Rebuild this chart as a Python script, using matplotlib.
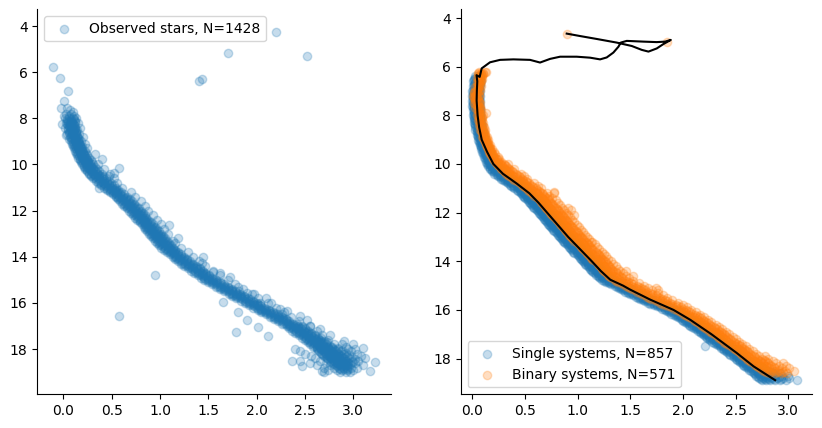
import matplotlib
matplotlib.use("Agg")
import matplotlib.pyplot as plt

# ---------------- data: left panel (observed stars) ----------------
# rows of (magnitude, [colours of stars at that magnitude])
obs_rows_upper = [
    (7.8, [0.03, 0.08]),
    (7.9, [0.01, 0.06, 0.11]),
    (8.0, [0.02, 0.06, 0.10, 0.13]),
    (8.1, [0.04, 0.08, 0.12]),
    (8.2, [0.03, 0.07, 0.09, 0.15]),
    (8.3, [0.05, 0.08, 0.11]),
    (8.4, [0.02, 0.09, 0.12, 0.17]),
    (8.5, [0.05, 0.08, 0.11, 0.14]),
    (8.6, [0.06, 0.10, 0.13]),
    (8.7, [0.04, 0.09, 0.12, 0.16]),
    (8.8, [0.07, 0.11, 0.14, 0.20]),
    (8.9, [0.06, 0.10, 0.13, 0.16]),
    (9.0, [0.08, 0.12, 0.15, 0.18]),
    (9.1, [0.09, 0.13, 0.16, 0.22]),
    (9.2, [0.10, 0.13, 0.17, 0.19]),
    (9.3, [0.11, 0.15, 0.18, 0.24]),
    (9.4, [0.12, 0.16, 0.19, 0.22]),
    (9.5, [0.13, 0.17, 0.20, 0.23]),
    (9.6, [0.14, 0.18, 0.21, 0.25]),
    (9.7, [0.15, 0.19, 0.23, 0.27]),
    (9.8, [0.17, 0.21, 0.24, 0.29]),
    (9.9, [0.18, 0.22, 0.26, 0.30]),
    (10.0, [0.19, 0.23, 0.27, 0.31, 0.36]),
    (10.1, [0.21, 0.25, 0.29, 0.33]),
    (10.2, [0.22, 0.27, 0.31, 0.35, 0.42]),
    (10.3, [0.24, 0.29, 0.33, 0.37]),
    (10.4, [0.27, 0.31, 0.35, 0.40, 0.48]),
    (10.5, [0.29, 0.33, 0.37, 0.41, 0.47]),
    (10.6, [0.31, 0.36, 0.40, 0.44, 0.52]),
    (10.7, [0.34, 0.38, 0.42, 0.47]),
    (10.8, [0.36, 0.41, 0.45, 0.49, 0.56]),
    (10.9, [0.39, 0.43, 0.47, 0.52]),
    (11.0, [0.42, 0.46, 0.50, 0.54, 0.61]),
    (11.1, [0.45, 0.49, 0.53, 0.57]),
    (11.2, [0.48, 0.52, 0.56, 0.60, 0.70]),
    (11.3, [0.51, 0.55, 0.59, 0.63]),
    (11.4, [0.54, 0.58, 0.62, 0.66, 0.74]),
    (11.5, [0.57, 0.61, 0.65, 0.69]),
    (11.6, [0.59, 0.63, 0.67, 0.71, 0.80]),
    (11.7, [0.61, 0.65, 0.69, 0.73]),
    (11.8, [0.63, 0.67, 0.71, 0.75, 0.84]),
    (11.9, [0.66, 0.70, 0.74, 0.78]),
]
obs_rows_middle = [
    (12.0, [0.68, 0.72, 0.76, 0.80, 0.88]),
    (12.1, [0.70, 0.74, 0.78, 0.82]),
    (12.2, [0.72, 0.76, 0.80, 0.84, 0.93]),
    (12.3, [0.74, 0.78, 0.82, 0.86]),
    (12.4, [0.76, 0.80, 0.84, 0.88, 0.97]),
    (12.5, [0.79, 0.83, 0.87, 0.91]),
    (12.6, [0.81, 0.85, 0.89, 0.93, 1.01]),
    (12.7, [0.83, 0.87, 0.91, 0.95]),
    (12.8, [0.85, 0.89, 0.93, 0.97, 1.04]),
    (12.9, [0.87, 0.91, 0.95, 0.99]),
    (13.0, [0.89, 0.93, 0.97, 1.01, 1.08]),
    (13.1, [0.91, 0.95, 0.99, 1.03]),
    (13.2, [0.93, 0.97, 1.01, 1.05]),
    (13.3, [0.95, 0.99, 1.03, 1.07, 1.13]),
    (13.4, [0.97, 1.01, 1.05, 1.09, 1.16]),
    (13.5, [0.99, 1.03, 1.07, 1.11]),
    (13.6, [1.01, 1.05, 1.09, 1.13, 1.22]),
    (13.7, [1.04, 1.08, 1.12, 1.16]),
    (13.8, [1.07, 1.11, 1.15, 1.19, 1.29]),
    (13.9, [1.10, 1.14, 1.18, 1.22]),
    (14.0, [1.13, 1.17, 1.21, 1.25, 1.34]),
    (14.1, [1.16, 1.20, 1.24, 1.28]),
    (14.2, [1.19, 1.23, 1.27, 1.31, 1.40]),
    (14.3, [1.22, 1.26, 1.30, 1.34]),
    (14.4, [1.25, 1.29, 1.33, 1.37, 1.47]),
    (14.5, [1.29, 1.33, 1.37, 1.41]),
    (14.6, [1.32, 1.36, 1.40, 1.44, 1.55]),
    (14.7, [1.35, 1.39, 1.43, 1.47]),
    (14.8, [1.39, 1.43, 1.47, 1.51, 1.62]),
    (14.9, [1.42, 1.46, 1.50, 1.54]),
    (15.0, [1.46, 1.50, 1.54, 1.58, 1.70]),
    (15.1, [1.50, 1.54, 1.58, 1.62]),
    (15.2, [1.54, 1.58, 1.62, 1.66, 1.78]),
    (15.3, [1.58, 1.62, 1.66, 1.70]),
    (15.4, [1.62, 1.66, 1.70, 1.74, 1.86]),
    (15.5, [1.66, 1.70, 1.74, 1.78, 1.82]),
    (15.6, [1.71, 1.75, 1.79, 1.83, 1.95]),
    (15.7, [1.75, 1.79, 1.83, 1.87]),
    (15.8, [1.79, 1.83, 1.87, 1.91, 2.01]),
    (15.9, [1.84, 1.88, 1.92, 1.96]),
]
obs_rows_lower = [
    (16.0, [1.88, 1.92, 1.96, 2.00, 2.04, 2.12]),
    (16.1, [1.92, 1.96, 2.00, 2.04]),
    (16.2, [1.96, 2.00, 2.04, 2.08, 2.20]),
    (16.3, [2.01, 2.05, 2.09, 2.13]),
    (16.4, [2.05, 2.09, 2.13, 2.17, 2.28]),
    (16.5, [2.10, 2.14, 2.18, 2.22, 2.26]),
    (16.6, [2.14, 2.18, 2.22, 2.26, 2.36]),
    (16.7, [2.18, 2.22, 2.26, 2.30]),
    (16.8, [2.22, 2.26, 2.30, 2.34, 2.44]),
    (16.9, [2.26, 2.30, 2.34, 2.38, 2.42]),
    (17.0, [2.31, 2.35, 2.39, 2.43, 2.47, 2.55]),
    (17.1, [2.34, 2.38, 2.42, 2.46, 2.50]),
    (17.2, [2.37, 2.41, 2.45, 2.49, 2.53, 2.62]),
    (17.3, [2.40, 2.44, 2.48, 2.52, 2.56]),
    (17.4, [2.44, 2.48, 2.52, 2.56, 2.60, 2.68]),
    (17.5, [2.47, 2.51, 2.55, 2.59, 2.63, 2.67]),
    (17.6, [2.50, 2.54, 2.58, 2.62, 2.66, 2.74]),
    (17.7, [2.53, 2.57, 2.61, 2.65, 2.69, 2.73]),
    (17.8, [2.55, 2.60, 2.64, 2.68, 2.72, 2.80, 2.88]),
    (17.9, [2.58, 2.62, 2.66, 2.70, 2.74, 2.78, 2.92]),
    (18.0, [2.40, 2.62, 2.67, 2.71, 2.75, 2.79, 2.84, 2.95, 3.02]),
    (18.1, [2.45, 2.65, 2.70, 2.74, 2.78, 2.82, 2.87, 2.98]),
    (18.2, [2.50, 2.68, 2.72, 2.76, 2.80, 2.84, 2.90, 3.04]),
    (18.3, [2.56, 2.70, 2.75, 2.79, 2.83, 2.87, 2.93, 3.08]),
    (18.4, [2.60, 2.73, 2.77, 2.81, 2.85, 2.89, 2.96, 3.12]),
    (18.5, [2.45, 2.66, 2.76, 2.80, 2.84, 2.88, 2.92, 2.99, 3.05]),
    (18.6, [2.55, 2.72, 2.79, 2.83, 2.87, 2.91, 2.95, 3.02]),
    (18.7, [2.62, 2.76, 2.82, 2.86, 2.90, 2.94, 3.10]),
    (18.8, [2.70, 2.80, 2.85, 2.89, 2.93, 2.98, 3.04]),
    (18.9, [2.74, 2.83, 2.88, 2.93, 3.00]),
    (19.0, [2.70, 2.86, 2.92, 2.97]),
]
# stars of the dense ridge lying between the rows above
obs_rows_half = [
    (8.05, [0.04, 0.08, 0.11]), (8.15, [0.05, 0.09, 0.12]), (8.25, [0.04, 0.07, 0.10]),
    (8.35, [0.06, 0.09, 0.12]), (8.45, [0.05, 0.09, 0.12]), (8.55, [0.07, 0.10, 0.13]),
    (8.65, [0.06, 0.10, 0.13]), (8.75, [0.08, 0.11, 0.14]), (8.85, [0.08, 0.12, 0.15]),
    (8.95, [0.09, 0.12, 0.15]), (9.05, [0.10, 0.13, 0.16]), (9.15, [0.11, 0.14, 0.17]),
    (9.25, [0.12, 0.15, 0.18]), (9.35, [0.13, 0.16, 0.19]), (9.45, [0.14, 0.17, 0.20]),
    (9.55, [0.15, 0.18, 0.21]), (9.65, [0.16, 0.19, 0.22]), (9.75, [0.17, 0.20, 0.24]),
    (9.85, [0.19, 0.22, 0.26]), (9.95, [0.20, 0.24, 0.28]), (10.05, [0.21, 0.25, 0.29]),
    (10.15, [0.23, 0.27, 0.31]), (10.25, [0.25, 0.29, 0.33]), (10.35, [0.27, 0.31, 0.35]),
    (10.45, [0.29, 0.33, 0.37]), (10.55, [0.32, 0.36, 0.40]), (10.65, [0.34, 0.38, 0.42]),
    (10.75, [0.37, 0.41, 0.45]), (10.85, [0.39, 0.43, 0.47]), (10.95, [0.42, 0.46, 0.50]),
    (11.05, [0.45, 0.49, 0.53]), (11.15, [0.48, 0.52, 0.56]), (11.25, [0.51, 0.55, 0.59]),
    (11.35, [0.54, 0.58, 0.62]), (11.45, [0.57, 0.61, 0.65]), (11.55, [0.60, 0.64, 0.68]),
    (11.65, [0.62, 0.66, 0.70]), (11.75, [0.64, 0.68, 0.72]), (11.85, [0.66, 0.70, 0.74]),
    (11.95, [0.69, 0.73, 0.77]), (12.05, [0.71, 0.75, 0.79]), (12.15, [0.73, 0.77, 0.81]),
    (12.25, [0.75, 0.79, 0.83]), (12.35, [0.77, 0.81, 0.85]), (12.45, [0.79, 0.83, 0.87]),
    (12.55, [0.82, 0.86, 0.90]), (12.65, [0.84, 0.88, 0.92]), (12.75, [0.86, 0.90, 0.94]),
    (12.85, [0.88, 0.92, 0.96]), (12.95, [0.90, 0.94, 0.98]), (13.05, [0.92, 0.96, 1.00]),
    (13.15, [0.94, 0.98, 1.02]), (13.25, [0.96, 1.00, 1.04]), (13.35, [0.98, 1.02, 1.06]),
    (13.45, [1.00, 1.04, 1.08]), (13.55, [1.02, 1.06, 1.10]), (13.65, [1.05, 1.09, 1.13]),
    (13.75, [1.08, 1.12, 1.16]), (13.85, [1.11, 1.15, 1.19]), (13.95, [1.14, 1.18, 1.22]),
    (14.05, [1.17, 1.21, 1.25]), (14.15, [1.20, 1.24, 1.28]), (14.25, [1.23, 1.27, 1.31]),
    (14.35, [1.26, 1.30, 1.34]), (14.45, [1.30, 1.34, 1.38]), (14.55, [1.33, 1.37, 1.41]),
    (14.65, [1.36, 1.40, 1.44]), (14.75, [1.40, 1.44, 1.48]), (14.85, [1.43, 1.47, 1.51]),
    (14.95, [1.47, 1.51, 1.55]), (15.05, [1.51, 1.55, 1.59]), (15.15, [1.55, 1.59, 1.63]),
    (15.25, [1.59, 1.63, 1.67]), (15.35, [1.63, 1.67, 1.71]), (15.45, [1.67, 1.71, 1.75]),
    (15.55, [1.72, 1.76, 1.80]), (15.65, [1.76, 1.80, 1.84]), (15.75, [1.80, 1.84, 1.88]),
    (15.85, [1.85, 1.89, 1.93]), (15.95, [1.89, 1.93, 1.97]), (16.05, [1.93, 1.97, 2.01]),
    (16.15, [1.97, 2.01, 2.05]), (16.25, [2.02, 2.06, 2.10]), (16.35, [2.06, 2.10, 2.14]),
    (16.45, [2.11, 2.15, 2.19]), (16.55, [2.15, 2.19, 2.23]), (16.65, [2.19, 2.23, 2.27]),
    (16.75, [2.23, 2.27, 2.31]), (16.85, [2.27, 2.31, 2.35]), (16.95, [2.32, 2.36, 2.40]),
    (17.05, [2.35, 2.39, 2.43, 2.47]), (17.15, [2.38, 2.42, 2.46, 2.50]),
    (17.25, [2.41, 2.45, 2.49, 2.53]), (17.35, [2.45, 2.49, 2.53, 2.57]),
    (17.45, [2.48, 2.52, 2.56, 2.60]), (17.55, [2.51, 2.55, 2.59, 2.63]),
    (17.65, [2.54, 2.58, 2.62, 2.66, 2.70]), (17.75, [2.56, 2.60, 2.64, 2.68, 2.72]),
    (17.85, [2.59, 2.63, 2.67, 2.71, 2.76]), (17.95, [2.62, 2.66, 2.70, 2.74, 2.78, 2.84]),
    (18.05, [2.64, 2.68, 2.72, 2.76, 2.81, 2.88]), (18.15, [2.67, 2.71, 2.75, 2.79, 2.84, 2.92]),
    (18.25, [2.69, 2.73, 2.77, 2.81, 2.86, 2.96]), (18.35, [2.72, 2.76, 2.80, 2.84, 2.89, 2.99]),
    (18.45, [2.74, 2.78, 2.82, 2.86, 2.91, 3.02]), (18.55, [2.77, 2.81, 2.85, 2.89, 2.94, 3.00]),
    (18.65, [2.80, 2.84, 2.88, 2.92, 2.97]), (18.75, [2.83, 2.87, 2.91, 2.95]),
    (18.85, [2.86, 2.90, 2.95]),
]
# isolated stars as (colour, magnitude)
obs_sparse = [
    (2.20, 4.27), (1.70, 5.18), (2.52, 5.30), (1.40, 6.37), (1.43, 6.31),
    (-0.11, 5.79), (-0.03, 6.27), (0.05, 6.82), (0.01, 7.24), (-0.02, 7.57),
    (0.07, 7.64), (0.10, 7.71), (0.04, 7.55), (-0.01, 8.25), (0.07, 8.36),
    (0.03, 8.72), (0.33, 9.55), (0.40, 9.78), (0.58, 10.17), (0.52, 10.36),
    (0.37, 11.04), (1.09, 12.63), (1.19, 13.20), (1.45, 14.03), (1.43, 14.29),
    (0.95, 14.81), (0.58, 16.57), (1.65, 15.96), (1.81, 16.38), (1.90, 16.74),
    (2.01, 17.06), (1.79, 17.28), (2.12, 17.44), (1.55, 14.65), (1.62, 14.72),
    (1.72, 14.87), (1.81, 15.30), (1.90, 15.55), (1.97, 15.62), (2.10, 15.80),
    (2.15, 15.99), (2.24, 16.28), (2.31, 16.35), (2.45, 16.57), (2.52, 16.76),
    (2.55, 17.00), (2.66, 17.15), (2.76, 17.37), (2.90, 17.66), (3.00, 17.80),
    (3.10, 17.95), (2.37, 18.52), (2.47, 18.72), (2.68, 18.95), (3.17, 18.95),
    (3.22, 18.55),
]

# ---------------- data: right panel (model) ----------------
single_rows = [
    (6.4, [0.03, 0.05, 0.07]), (6.5, [0.02, 0.04, 0.06]),
    (6.6, [0.01, 0.04, 0.06, 0.08]), (6.7, [0.02, 0.05, 0.07]),
    (6.8, [0.01, 0.03, 0.05, 0.07]), (6.9, [0.02, 0.04, 0.06]),
    (7.0, [0.00, 0.03, 0.05, 0.07]), (7.1, [0.01, 0.04, 0.06]),
    (7.2, [0.00, 0.02, 0.05, 0.07]), (7.3, [0.01, 0.03, 0.06]),
    (7.4, [0.00, 0.03, 0.05, 0.07]), (7.5, [0.01, 0.04, 0.06]),
    (7.6, [0.00, 0.02, 0.05, 0.07]), (7.7, [0.02, 0.04, 0.06]),
    (7.8, [0.01, 0.03, 0.05, 0.07]), (7.9, [0.02, 0.04, 0.07]),
    (8.0, [0.01, 0.03, 0.05, 0.07]), (8.1, [0.02, 0.04, 0.06, 0.08]),
    (8.2, [0.02, 0.05, 0.07]), (8.3, [0.02, 0.04, 0.06, 0.08]),
    (8.4, [0.03, 0.05, 0.07, 0.09]), (8.5, [0.03, 0.06, 0.08]),
    (8.6, [0.03, 0.05, 0.07, 0.09]), (8.7, [0.04, 0.06, 0.08, 0.10]),
    (8.8, [0.04, 0.07, 0.09]), (8.9, [0.05, 0.07, 0.09, 0.11]),
    (9.0, [0.05, 0.08, 0.10]), (9.1, [0.06, 0.08, 0.10, 0.12]),
    (9.2, [0.07, 0.09, 0.11, 0.13]), (9.3, [0.08, 0.10, 0.12]),
    (9.4, [0.08, 0.11, 0.13, 0.15]), (9.5, [0.09, 0.12, 0.14, 0.16]),
    (9.6, [0.10, 0.13, 0.15]), (9.7, [0.11, 0.14, 0.16, 0.18]),
    (9.8, [0.12, 0.15, 0.17, 0.19]), (9.9, [0.13, 0.16, 0.18, 0.20]),
    (10.0, [0.14, 0.17, 0.19, 0.21]), (10.1, [0.15, 0.18, 0.21, 0.23]),
    (10.2, [0.17, 0.20, 0.23, 0.25]), (10.3, [0.19, 0.22, 0.25, 0.28]),
    (10.4, [0.21, 0.24, 0.27, 0.30]), (10.5, [0.24, 0.27, 0.30, 0.33]),
    (10.6, [0.27, 0.30, 0.33, 0.36]), (10.7, [0.31, 0.34, 0.37, 0.40]),
    (10.8, [0.34, 0.37, 0.40, 0.43]), (10.9, [0.37, 0.40, 0.43, 0.46]),
    (11.0, [0.40, 0.43, 0.46, 0.49]), (11.1, [0.43, 0.46, 0.49, 0.52]),
    (11.2, [0.46, 0.49, 0.52, 0.55]), (11.3, [0.48, 0.51, 0.54, 0.57]),
    (11.4, [0.50, 0.53, 0.56, 0.59]), (11.5, [0.53, 0.56, 0.59, 0.62]),
    (11.6, [0.55, 0.58, 0.61, 0.64]), (11.7, [0.57, 0.60, 0.63, 0.66]),
    (11.8, [0.59, 0.62, 0.65, 0.68]), (11.9, [0.61, 0.64, 0.67, 0.70]),
    (12.0, [0.63, 0.66, 0.69, 0.72]), (12.1, [0.65, 0.68, 0.71, 0.74]),
    (12.2, [0.67, 0.70, 0.73, 0.76]), (12.3, [0.69, 0.72, 0.75, 0.78]),
    (12.4, [0.71, 0.74, 0.77, 0.80]), (12.5, [0.73, 0.76, 0.79, 0.82]),
    (12.6, [0.75, 0.78, 0.81, 0.84]), (12.7, [0.77, 0.80, 0.83, 0.86]),
    (12.8, [0.79, 0.82, 0.85, 0.88]), (12.9, [0.81, 0.84, 0.87, 0.90]),
    (13.0, [0.83, 0.86, 0.89, 0.92]), (13.1, [0.85, 0.88, 0.91, 0.94]),
    (13.2, [0.87, 0.90, 0.93, 0.96]), (13.3, [0.90, 0.93, 0.96, 0.99]),
    (13.4, [0.92, 0.95, 0.98, 1.01]), (13.5, [0.94, 0.97, 1.00, 1.03]),
    (13.6, [0.96, 0.99, 1.02, 1.05]), (13.7, [0.99, 1.02, 1.05, 1.08]),
    (13.8, [1.01, 1.04, 1.07, 1.10]), (13.9, [1.03, 1.06, 1.09, 1.12]),
    (14.0, [1.05, 1.08, 1.11, 1.14]), (14.1, [1.07, 1.10, 1.13, 1.16]),
    (14.2, [1.10, 1.13, 1.16, 1.19]), (14.3, [1.12, 1.15, 1.18, 1.21]),
    (14.4, [1.14, 1.17, 1.20, 1.23]), (14.5, [1.16, 1.19, 1.22, 1.25]),
    (14.6, [1.19, 1.22, 1.25, 1.28]), (14.7, [1.21, 1.24, 1.27, 1.30]),
    (14.8, [1.25, 1.28, 1.31, 1.34]), (14.9, [1.30, 1.33, 1.36, 1.39]),
    (15.0, [1.35, 1.38, 1.41, 1.44]), (15.1, [1.39, 1.42, 1.45, 1.48]),
    (15.2, [1.43, 1.46, 1.49, 1.52]), (15.3, [1.48, 1.51, 1.54, 1.57]),
    (15.4, [1.53, 1.56, 1.59, 1.62]), (15.5, [1.57, 1.60, 1.63, 1.66]),
    (15.6, [1.62, 1.65, 1.68, 1.71]), (15.7, [1.67, 1.70, 1.73, 1.76]),
    (15.8, [1.72, 1.75, 1.78, 1.81]), (15.9, [1.78, 1.81, 1.84, 1.87]),
    (16.0, [1.83, 1.86, 1.89, 1.92]), (16.1, [1.87, 1.90, 1.93, 1.96]),
    (16.2, [1.91, 1.94, 1.97, 2.00]), (16.3, [1.95, 1.98, 2.01, 2.04]),
    (16.4, [1.99, 2.02, 2.05, 2.08]), (16.5, [2.02, 2.05, 2.08, 2.11]),
    (16.6, [2.06, 2.09, 2.12, 2.15]), (16.7, [2.09, 2.12, 2.15, 2.18]),
    (16.8, [2.12, 2.15, 2.18, 2.21]), (16.9, [2.16, 2.19, 2.22, 2.25]),
    (17.0, [2.19, 2.22, 2.25, 2.28]), (17.1, [2.22, 2.25, 2.28, 2.31]),
    (17.2, [2.25, 2.28, 2.31, 2.34]), (17.3, [2.28, 2.31, 2.34, 2.37]),
    (17.4, [2.31, 2.34, 2.37, 2.40]), (17.5, [2.35, 2.38, 2.41, 2.44, 2.21]),
    (17.6, [2.38, 2.41, 2.44, 2.47]), (17.7, [2.41, 2.44, 2.47, 2.50]),
    (17.8, [2.44, 2.47, 2.50, 2.53]), (17.9, [2.47, 2.50, 2.53, 2.56]),
    (18.0, [2.50, 2.53, 2.56, 2.59]), (18.1, [2.53, 2.56, 2.59, 2.62]),
    (18.2, [2.56, 2.59, 2.62, 2.65]), (18.3, [2.58, 2.61, 2.64, 2.67, 2.71]),
    (18.4, [2.62, 2.65, 2.68, 2.71, 2.75]), (18.5, [2.65, 2.68, 2.71, 2.74, 2.80]),
    (18.6, [2.67, 2.71, 2.75, 2.78, 2.85, 2.92]),
    (18.7, [2.69, 2.73, 2.77, 2.81, 2.87, 2.94, 3.00]),
    (18.8, [2.72, 2.76, 2.80, 2.84, 2.89, 2.95, 3.01]),
    (18.9, [2.75, 2.79, 2.83, 2.87, 2.92, 2.98, 3.08]),
]
single_rows_half = [
    (6.45, [0.03, 0.05]), (6.55, [0.02, 0.05, 0.07]), (6.65, [0.03, 0.05]),
    (6.75, [0.02, 0.04, 0.06]), (6.85, [0.03, 0.05]), (6.95, [0.01, 0.04, 0.06]),
    (7.05, [0.02, 0.04]), (7.15, [0.01, 0.03, 0.06]), (7.25, [0.02, 0.04]),
    (7.35, [0.01, 0.04, 0.06]), (7.45, [0.02, 0.04]), (7.55, [0.01, 0.03, 0.06]),
    (7.65, [0.01, 0.04]), (7.75, [0.02, 0.05, 0.07]), (7.85, [0.02, 0.04]),
    (7.95, [0.02, 0.04, 0.06]), (8.05, [0.02, 0.05]), (8.15, [0.03, 0.05, 0.07]),
    (8.25, [0.03, 0.06]), (8.35, [0.03, 0.05, 0.07]), (8.45, [0.04, 0.06]),
    (8.55, [0.04, 0.06, 0.08]), (8.65, [0.04, 0.07]), (8.75, [0.05, 0.07, 0.09]),
    (8.85, [0.05, 0.08]), (8.95, [0.06, 0.08, 0.10]), (9.05, [0.07, 0.09]),
    (9.15, [0.07, 0.09, 0.11]), (9.25, [0.08, 0.10, 0.12]), (9.35, [0.09, 0.11, 0.13]),
    (9.45, [0.10, 0.12, 0.14]), (9.55, [0.11, 0.13, 0.15]), (9.65, [0.12, 0.14, 0.16]),
    (9.75, [0.13, 0.15, 0.17]), (9.85, [0.14, 0.16, 0.18]), (9.95, [0.15, 0.17, 0.19]),
    (10.05, [0.16, 0.18, 0.20]), (10.15, [0.17, 0.20, 0.22]), (10.25, [0.19, 0.22, 0.24]),
    (10.35, [0.21, 0.24, 0.27]), (10.45, [0.23, 0.26, 0.29]), (10.55, [0.26, 0.29, 0.32]),
    (10.65, [0.29, 0.32, 0.35]), (10.75, [0.33, 0.36, 0.39]), (10.85, [0.36, 0.39, 0.42]),
    (10.95, [0.39, 0.42, 0.45]), (11.05, [0.42, 0.45, 0.48]), (11.15, [0.45, 0.48, 0.51]),
    (11.25, [0.47, 0.50, 0.53]), (11.35, [0.49, 0.52, 0.55]), (11.45, [0.52, 0.55, 0.58]),
    (11.55, [0.54, 0.57, 0.60]), (11.65, [0.56, 0.59, 0.62]), (11.75, [0.58, 0.61, 0.64]),
    (11.85, [0.60, 0.63, 0.66]), (11.95, [0.62, 0.65, 0.68]), (12.05, [0.64, 0.67, 0.70]),
    (12.15, [0.66, 0.69, 0.72]), (12.25, [0.68, 0.71, 0.74]), (12.35, [0.70, 0.73, 0.76]),
    (12.45, [0.72, 0.75, 0.78]), (12.55, [0.74, 0.77, 0.80]), (12.65, [0.76, 0.79, 0.82]),
    (12.75, [0.78, 0.81, 0.84]), (12.85, [0.80, 0.83, 0.86]), (12.95, [0.82, 0.85, 0.88]),
    (13.05, [0.84, 0.87, 0.90]), (13.15, [0.86, 0.89, 0.92]), (13.25, [0.88, 0.91, 0.94]),
    (13.35, [0.91, 0.94, 0.97]), (13.45, [0.93, 0.96, 0.99]), (13.55, [0.95, 0.98, 1.01]),
    (13.65, [0.97, 1.00, 1.03]), (13.75, [1.00, 1.03, 1.06]), (13.85, [1.02, 1.05, 1.08]),
    (13.95, [1.04, 1.07, 1.10]), (14.05, [1.06, 1.09, 1.12]), (14.15, [1.08, 1.11, 1.14]),
    (14.25, [1.11, 1.14, 1.17]), (14.35, [1.13, 1.16, 1.19]), (14.45, [1.15, 1.18, 1.21]),
    (14.55, [1.17, 1.20, 1.23]), (14.65, [1.20, 1.23, 1.26]), (14.75, [1.23, 1.26, 1.29]),
    (14.85, [1.27, 1.30, 1.33]), (14.95, [1.32, 1.35, 1.38]), (15.05, [1.37, 1.40, 1.43]),
    (15.15, [1.41, 1.44, 1.47]), (15.25, [1.45, 1.48, 1.51]), (15.35, [1.50, 1.53, 1.56]),
    (15.45, [1.55, 1.58, 1.61]), (15.55, [1.59, 1.62, 1.65]), (15.65, [1.64, 1.67, 1.70]),
    (15.75, [1.69, 1.72, 1.75]), (15.85, [1.75, 1.78, 1.81]), (15.95, [1.80, 1.83, 1.86]),
    (16.05, [1.85, 1.88, 1.91]), (16.15, [1.89, 1.92, 1.95]), (16.25, [1.93, 1.96, 1.99]),
    (16.35, [1.97, 2.00, 2.03]), (16.45, [2.00, 2.03, 2.06]), (16.55, [2.04, 2.07, 2.10]),
    (16.65, [2.07, 2.10, 2.13]), (16.75, [2.10, 2.13, 2.16]), (16.85, [2.14, 2.17, 2.20]),
    (16.95, [2.17, 2.20, 2.23]), (17.05, [2.20, 2.23, 2.26]), (17.15, [2.23, 2.26, 2.29]),
    (17.25, [2.26, 2.29, 2.32]), (17.35, [2.29, 2.32, 2.35]), (17.45, [2.33, 2.36, 2.39]),
    (17.55, [2.36, 2.39, 2.42]), (17.65, [2.39, 2.42, 2.45]), (17.75, [2.42, 2.45, 2.48]),
    (17.85, [2.45, 2.48, 2.51]), (17.95, [2.48, 2.51, 2.54]), (18.05, [2.51, 2.54, 2.57]),
    (18.15, [2.54, 2.57, 2.60]), (18.25, [2.57, 2.60, 2.63, 2.67]),
    (18.35, [2.60, 2.63, 2.66, 2.70]), (18.45, [2.63, 2.66, 2.70, 2.74]),
    (18.55, [2.66, 2.70, 2.73, 2.78, 2.84]), (18.65, [2.68, 2.72, 2.76, 2.80, 2.87]),
    (18.75, [2.71, 2.75, 2.79, 2.84, 2.91]), (18.85, [2.74, 2.78, 2.82, 2.86, 2.93]),
]
binary_rows = [
    (6.2, [0.06, 0.12]), (6.3, [0.05, 0.08, 0.10]), (6.4, [0.06, 0.09]),
    (6.5, [0.05, 0.07, 0.09]), (6.6, [0.06, 0.08]), (6.7, [0.05, 0.07]),
    (6.8, [0.04, 0.06, 0.08]), (6.9, [0.05]), (7.0, [0.03, 0.06]),
    (7.1, [0.02, 0.05]), (7.2, [0.01, 0.03, 0.06]), (7.3, [0.02, 0.04]),
    (7.4, [0.03, 0.06]), (7.5, [0.02, 0.05, 0.07]), (7.6, [0.04, 0.06]),
    (7.7, [0.03, 0.07]), (7.8, [0.05, 0.08]), (7.9, [0.06, 0.13]),
    (8.0, [0.04, 0.07, 0.10]), (8.1, [0.06, 0.09]), (8.2, [0.05, 0.08]),
    (8.3, [0.07, 0.10]), (8.4, [0.06, 0.09]), (8.5, [0.08, 0.11]),
    (8.6, [0.07, 0.10, 0.12]), (8.7, [0.09, 0.11]), (8.8, [0.10, 0.12]),
    (8.9, [0.09, 0.12, 0.14]), (9.0, [0.11, 0.13, 0.15]), (9.1, [0.12, 0.14]),
    (9.2, [0.13, 0.15, 0.17]), (9.3, [0.14, 0.16]), (9.4, [0.15, 0.17, 0.19]),
    (9.5, [0.16, 0.18, 0.21]), (9.6, [0.17, 0.19, 0.22]),
    (9.7, [0.19, 0.21, 0.24]), (9.8, [0.20, 0.23, 0.25]),
    (9.9, [0.22, 0.24, 0.27]), (10.0, [0.23, 0.26, 0.30, 0.34]),
    (10.1, [0.25, 0.28, 0.32]), (10.2, [0.27, 0.31, 0.35, 0.40]),
    (10.3, [0.30, 0.34, 0.38]), (10.4, [0.32, 0.36, 0.41, 0.46]),
    (10.5, [0.35, 0.39, 0.44, 0.49]), (10.6, [0.39, 0.43, 0.47, 0.52]),
    (10.7, [0.42, 0.46, 0.51]), (10.8, [0.45, 0.49, 0.54, 0.59]),
    (10.9, [0.48, 0.52, 0.57, 0.62]), (11.0, [0.51, 0.55, 0.60, 0.65]),
    (11.1, [0.54, 0.58, 0.63]), (11.2, [0.57, 0.61, 0.66, 0.71, 0.78]),
    (11.3, [0.59, 0.63, 0.68, 0.73]), (11.4, [0.62, 0.66, 0.71, 0.76]),
    (11.5, [0.64, 0.68, 0.73, 0.79]), (11.6, [0.66, 0.70, 0.75, 0.81]),
    (11.7, [0.68, 0.72, 0.77, 0.83]), (11.8, [0.70, 0.74, 0.79, 0.85, 0.91]),
    (11.9, [0.72, 0.76, 0.81, 0.87, 0.94]), (12.0, [0.74, 0.78, 0.83, 0.89]),
    (12.1, [0.76, 0.80, 0.85, 0.91, 0.97]), (12.2, [0.78, 0.82, 0.87, 0.93]),
    (12.3, [0.80, 0.84, 0.89, 0.95]), (12.4, [0.82, 0.86, 0.91, 0.97]),
    (12.5, [0.84, 0.88, 0.93, 0.99]), (12.6, [0.86, 0.90, 0.95, 1.01]),
    (12.7, [0.88, 0.92, 0.97, 1.03]), (12.8, [0.90, 0.94, 0.99, 1.05]),
    (12.9, [0.92, 0.96, 1.01, 1.07]), (13.0, [0.94, 0.98, 1.03, 1.09]),
    (13.1, [0.96, 1.00, 1.05, 1.11]), (13.2, [0.99, 1.03, 1.08, 1.13, 1.14]),
    (13.3, [1.01, 1.05, 1.10, 1.16]), (13.4, [1.03, 1.07, 1.12, 1.18]),
    (13.5, [1.05, 1.09, 1.14, 1.20]), (13.6, [1.08, 1.12, 1.17, 1.23]),
    (13.7, [1.10, 1.14, 1.19, 1.25]), (13.8, [1.12, 1.16, 1.21, 1.27]),
    (13.9, [1.14, 1.18, 1.23, 1.29]), (14.0, [1.17, 1.21, 1.26, 1.32]),
    (14.1, [1.19, 1.23, 1.28, 1.34]), (14.2, [1.21, 1.25, 1.30, 1.36]),
    (14.3, [1.23, 1.27, 1.32, 1.38]), (14.4, [1.25, 1.29, 1.34, 1.40, 1.46]),
    (14.5, [1.28, 1.32, 1.37, 1.43]), (14.6, [1.30, 1.34, 1.39, 1.46, 1.53]),
    (14.7, [1.33, 1.37, 1.42, 1.49]), (14.8, [1.36, 1.41, 1.46, 1.53]),
    (14.9, [1.41, 1.46, 1.51, 1.58]), (15.0, [1.46, 1.51, 1.56, 1.63]),
    (15.1, [1.50, 1.55, 1.60, 1.67, 1.74]), (15.2, [1.54, 1.59, 1.64, 1.71, 1.76]),
    (15.3, [1.59, 1.64, 1.69, 1.76]), (15.4, [1.64, 1.69, 1.74, 1.81]),
    (15.5, [1.68, 1.73, 1.78, 1.85]), (15.6, [1.73, 1.78, 1.83, 1.90]),
    (15.7, [1.78, 1.83, 1.88, 1.95]), (15.8, [1.83, 1.88, 1.93, 2.00]),
    (15.9, [1.89, 1.93, 1.98, 2.04]), (16.0, [1.94, 1.98, 2.03, 2.08]),
    (16.1, [1.98, 2.02, 2.07, 2.12]), (16.2, [2.02, 2.06, 2.11, 2.16]),
    (16.3, [2.06, 2.10, 2.15, 2.20]), (16.4, [2.10, 2.14, 2.19, 2.24]),
    (16.5, [2.13, 2.17, 2.22, 2.27]), (16.6, [2.17, 2.21, 2.26, 2.31]),
    (16.7, [2.20, 2.24, 2.29, 2.34]), (16.8, [2.23, 2.27, 2.32, 2.37]),
    (16.9, [2.27, 2.31, 2.36, 2.41]), (17.0, [2.30, 2.34, 2.39, 2.44]),
    (17.1, [2.33, 2.37, 2.42, 2.47]), (17.2, [2.36, 2.40, 2.45, 2.50]),
    (17.3, [2.39, 2.43, 2.48, 2.53]), (17.4, [2.42, 2.46, 2.51, 2.56]),
    (17.5, [2.46, 2.50, 2.55, 2.60]), (17.6, [2.49, 2.53, 2.58, 2.63]),
    (17.7, [2.52, 2.56, 2.61, 2.66]), (17.8, [2.55, 2.59, 2.64, 2.69]),
    (17.9, [2.58, 2.62, 2.67, 2.72, 2.78]), (18.0, [2.61, 2.65, 2.70, 2.75, 2.81]),
    (18.1, [2.64, 2.68, 2.73, 2.78, 2.85]),
    (18.2, [2.67, 2.71, 2.76, 2.81, 2.88, 2.95]),
    (18.3, [2.70, 2.74, 2.79, 2.84, 2.91, 2.98]),
    (18.4, [2.73, 2.77, 2.82, 2.87, 2.94, 3.01]),
    (18.5, [2.77, 2.81, 2.86, 2.91, 2.97, 3.05]),
    (18.6, [2.82, 2.87, 2.93, 2.99]),
]
binary_rows_half = [
    (6.25, [0.05, 0.08, 0.10]), (6.35, [0.06, 0.09]), (6.45, [0.04, 0.07]),
    (6.55, [0.06, 0.08]), (6.65, [0.04, 0.07]), (6.75, [0.06]), (6.85, [0.03, 0.05]),
    (6.95, [0.04, 0.07]), (7.05, [0.02, 0.04]), (7.15, [0.03, 0.06]), (7.25, [0.02, 0.04]),
    (7.35, [0.03, 0.05]), (7.45, [0.04, 0.06]), (7.55, [0.03]), (7.65, [0.05, 0.07]),
    (7.75, [0.04, 0.06]), (7.85, [0.06]), (7.95, [0.05, 0.08]), (8.05, [0.06, 0.09]),
    (8.15, [0.07]), (8.25, [0.06, 0.09]), (8.35, [0.08]), (8.45, [0.07, 0.10]),
    (8.55, [0.09]), (8.65, [0.08, 0.11]), (8.75, [0.10, 0.12]), (8.85, [0.11]),
    (8.95, [0.10, 0.13]), (9.05, [0.12, 0.14]), (9.15, [0.13, 0.15]), (9.25, [0.14, 0.16]),
    (9.35, [0.15, 0.17]), (9.45, [0.16, 0.18]), (9.55, [0.17, 0.19]), (9.65, [0.18, 0.20]),
    (9.75, [0.20, 0.22]), (9.85, [0.21, 0.24]), (9.95, [0.23, 0.26]),
    (10.05, [0.24, 0.28, 0.31]), (10.15, [0.27, 0.30, 0.34]), (10.25, [0.29, 0.32, 0.36]),
    (10.35, [0.31, 0.35, 0.39]), (10.45, [0.34, 0.38, 0.42]), (10.55, [0.37, 0.41, 0.45]),
    (10.65, [0.40, 0.44, 0.48]), (10.75, [0.44, 0.48, 0.52]), (10.85, [0.47, 0.51, 0.55]),
    (10.95, [0.50, 0.54, 0.58]), (11.05, [0.53, 0.57, 0.61]), (11.15, [0.56, 0.60, 0.64]),
    (11.25, [0.58, 0.62, 0.67]), (11.35, [0.61, 0.65, 0.69]), (11.45, [0.63, 0.67, 0.72]),
    (11.55, [0.65, 0.69, 0.74]), (11.65, [0.67, 0.71, 0.76]), (11.75, [0.69, 0.73, 0.78]),
    (11.85, [0.71, 0.75, 0.80]), (11.95, [0.73, 0.77, 0.82]), (12.05, [0.75, 0.79, 0.84]),
    (12.15, [0.77, 0.81, 0.86]), (12.25, [0.79, 0.83, 0.88]), (12.35, [0.81, 0.85, 0.90]),
    (12.45, [0.83, 0.87, 0.92]), (12.55, [0.85, 0.89, 0.94]), (12.65, [0.87, 0.91, 0.96]),
    (12.75, [0.89, 0.93, 0.98]), (12.85, [0.91, 0.95, 1.00]), (12.95, [0.93, 0.97, 1.02]),
    (13.05, [0.95, 0.99, 1.04]), (13.15, [0.97, 1.01, 1.06]), (13.25, [1.00, 1.04, 1.09]),
    (13.35, [1.02, 1.06, 1.11]), (13.45, [1.04, 1.08, 1.13]), (13.55, [1.06, 1.10, 1.15]),
    (13.65, [1.09, 1.13, 1.18]), (13.75, [1.11, 1.15, 1.20]), (13.85, [1.13, 1.17, 1.22]),
    (13.95, [1.15, 1.19, 1.24]), (14.05, [1.18, 1.22, 1.27]), (14.15, [1.20, 1.24, 1.29]),
    (14.25, [1.22, 1.26, 1.31]), (14.35, [1.24, 1.28, 1.33]), (14.45, [1.26, 1.31, 1.36]),
    (14.55, [1.29, 1.33, 1.38]), (14.65, [1.31, 1.36, 1.41]), (14.75, [1.35, 1.39, 1.44]),
    (14.85, [1.38, 1.43, 1.48]), (14.95, [1.43, 1.48, 1.53]), (15.05, [1.48, 1.53, 1.58]),
    (15.15, [1.52, 1.57, 1.62]), (15.25, [1.56, 1.61, 1.66]), (15.35, [1.61, 1.66, 1.71]),
    (15.45, [1.66, 1.71, 1.76]), (15.55, [1.70, 1.75, 1.80]), (15.65, [1.75, 1.80, 1.85]),
    (15.75, [1.80, 1.85, 1.90]), (15.85, [1.86, 1.90, 1.95]), (15.95, [1.91, 1.95, 2.00]),
    (16.05, [1.96, 2.00, 2.05]), (16.15, [2.00, 2.04, 2.09]), (16.25, [2.04, 2.08, 2.13]),
    (16.35, [2.08, 2.12, 2.17]), (16.45, [2.11, 2.15, 2.20]), (16.55, [2.15, 2.19, 2.24]),
    (16.65, [2.18, 2.22, 2.27]), (16.75, [2.21, 2.25, 2.30]), (16.85, [2.25, 2.29, 2.34]),
    (16.95, [2.28, 2.32, 2.37]), (17.05, [2.31, 2.35, 2.40]), (17.15, [2.34, 2.38, 2.43]),
    (17.25, [2.37, 2.41, 2.46]), (17.35, [2.40, 2.44, 2.49]), (17.45, [2.44, 2.48, 2.53]),
    (17.55, [2.47, 2.51, 2.56]), (17.65, [2.50, 2.54, 2.59]), (17.75, [2.53, 2.57, 2.62]),
    (17.85, [2.56, 2.60, 2.65]), (17.95, [2.59, 2.63, 2.68]),
    (18.05, [2.62, 2.66, 2.71, 2.77]), (18.15, [2.65, 2.69, 2.74, 2.80]),
    (18.25, [2.68, 2.72, 2.77, 2.83]), (18.35, [2.71, 2.75, 2.80, 2.86]),
    (18.45, [2.75, 2.79, 2.84, 2.90]), (18.55, [2.79, 2.84, 2.89, 2.95]),
]
binary_sparse = [(0.90, 4.67), (1.85, 4.97), (0.78, 11.17), (0.13, 6.23)]

# isochrone (colour, magnitude), from the faint end to the giant branch
iso_colour = [2.875, 2.67, 2.51, 2.27, 2.07, 1.91, 1.69, 1.50, 1.43, 1.31, 1.22,
              1.134, 0.91, 0.81, 0.71, 0.63, 0.54, 0.42, 0.29, 0.20, 0.14, 0.089,
              0.065, 0.05, 0.041, 0.043, 0.047, 0.04, 0.07, 0.089, 0.168, 0.263,
              0.39, 0.548, 0.643, 0.738, 0.833, 0.991, 1.118, 1.213, 1.276, 1.339,
              1.387, 1.409, 1.466, 1.625, 1.751, 1.83, 1.884, 1.814, 1.751, 1.672,
              1.609, 1.514, 1.371, 1.18, 1.022, 0.896]
iso_mag = [18.89, 18.32, 17.77, 17.0, 16.41, 16.0, 15.58, 15.17, 15.0, 14.76, 14.4,
           14.0, 13.0, 12.5, 12.0, 11.6, 11.2, 10.8, 10.4, 10.0, 9.5, 9.0,
           8.5, 8.0, 7.4, 7.0, 6.6, 6.35, 6.42, 6.07, 5.82, 5.72,
           5.70, 5.72, 5.83, 5.68, 5.59, 5.59, 5.63, 5.70, 5.62, 5.42,
           5.18, 5.01, 4.94, 4.97, 4.99, 4.97, 4.90, 5.07, 5.25, 5.38,
           5.31, 5.15, 5.01, 4.86, 4.74, 4.64]

legend_obs = "Observed stars, N=1428"
legend_single = "Single systems, N=857"
legend_binary = "Binary systems, N=571"


def flatten(rows):
    xs, ys = [], []
    for mag, cols in rows:
        xs.extend(cols)
        ys.extend([mag] * len(cols))
    return xs, ys


obs_x, obs_y = flatten(obs_rows_upper + obs_rows_middle + obs_rows_lower + obs_rows_half)
obs_x += [p[0] for p in obs_sparse]
obs_y += [p[1] for p in obs_sparse]
sin_x, sin_y = flatten(single_rows + single_rows_half)
bin_x, bin_y = flatten(binary_rows + binary_rows_half)
bin_x += [p[0] for p in binary_sparse]
bin_y += [p[1] for p in binary_sparse]

fig = plt.figure(figsize=(8.22, 4.28), dpi=100)
ax1 = fig.add_axes([0.0454, 0.0787, 0.4299, 0.8995])
ax2 = fig.add_axes([0.5605, 0.0787, 0.4270, 0.9002])

ax1.scatter(obs_x, obs_y, color="#1f77b4", alpha=0.25, label=legend_obs)
ax1.set_xlim(-0.269, 3.387)
ax1.set_ylim(19.96, 3.276)
ax1.set_xticks([0.0, 0.5, 1.0, 1.5, 2.0, 2.5, 3.0])
ax1.set_yticks([4, 6, 8, 10, 12, 14, 16, 18])
ax1.legend(loc="upper left")

ax2.scatter(sin_x, sin_y, color="#1f77b4", alpha=0.25, label=legend_single)
ax2.scatter(bin_x, bin_y, color="#ff7f0e", alpha=0.25, label=legend_binary)
ax2.plot(iso_colour, iso_mag, color="black", lw=1.5)
ax2.set_xlim(-0.110, 3.222)
ax2.set_ylim(19.47, 3.63)
ax2.set_xticks([0.0, 0.5, 1.0, 1.5, 2.0, 2.5, 3.0])
ax2.set_yticks([4, 6, 8, 10, 12, 14, 16, 18])
ax2.legend(loc="lower left")

for ax in (ax1, ax2):
    ax.spines["top"].set_visible(False)
    ax.spines["right"].set_visible(False)

fig.savefig("out.png", dpi=100)
